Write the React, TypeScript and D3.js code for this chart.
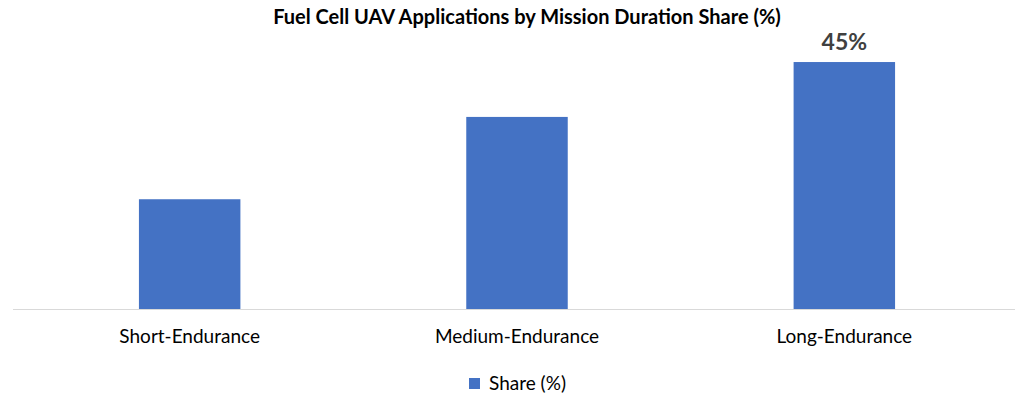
import React from "react";
import * as d3 from "d3";

const categories = ["Short-Endurance", "Medium-Endurance", "Long-Endurance"];
const shareValues = [20, 35, 45];
const labelledIndex = [2];
const seriesName = "Share (%)";
const chartTitle = "Fuel Cell UAV Applications by Mission Duration Share (%)";

const W = 1024;
const H = 405;
const FONT = "Lato, 'Open Sans', 'Liberation Sans', sans-serif";

export default function App() {
  const x = d3
    .scaleBand<string>()
    .domain(categories)
    .range([26, 1008])
    .paddingInner(0.69)
    .paddingOuter(0.345);
  const y = d3.scaleLinear().domain([0, 50]).range([309, 34.6]);
  const color = "#4472C4";

  return (
    <svg
      width={W}
      height={H}
      style={{ position: "absolute", left: 0, top: 0, background: "#fff" }}
      fontFamily={FONT}
    >
      <rect x={0} y={0} width={W} height={H} fill="#fff" />
      <text x={527} y={24} textAnchor="middle" fontSize={20} fontWeight={700} fill="#000">
        {chartTitle}
      </text>
      {categories.map((c, i) => (
        <rect
          key={c}
          x={x(c)}
          y={y(shareValues[i])}
          width={x.bandwidth()}
          height={y(0) - y(shareValues[i])}
          fill={color}
        />
      ))}
      <line x1={13} x2={1015} y1={y(0) + 0.5} y2={y(0) + 0.5} stroke="#d9d9d9" strokeWidth={1} />
      {labelledIndex.map((i) => (
        <text
          key={i}
          x={(x(categories[i]) as number) + x.bandwidth() / 2}
          y={y(shareValues[i]) - 12}
          textAnchor="middle"
          fontSize={23}
          fontWeight={700}
          fill="#404040"
        >
          {shareValues[i]}%
        </text>
      ))}
      {categories.map((c) => (
        <text
          key={c}
          x={(x(c) as number) + x.bandwidth() / 2}
          y={343}
          textAnchor="middle"
          fontSize={19}
          fill="#000"
        >
          {c}
        </text>
      ))}
      <rect x={469} y={378} width={11} height={11} fill={color} />
      <text x={489} y={390} fontSize={19} fill="#000">
        {seriesName}
      </text>
    </svg>
  );
}
